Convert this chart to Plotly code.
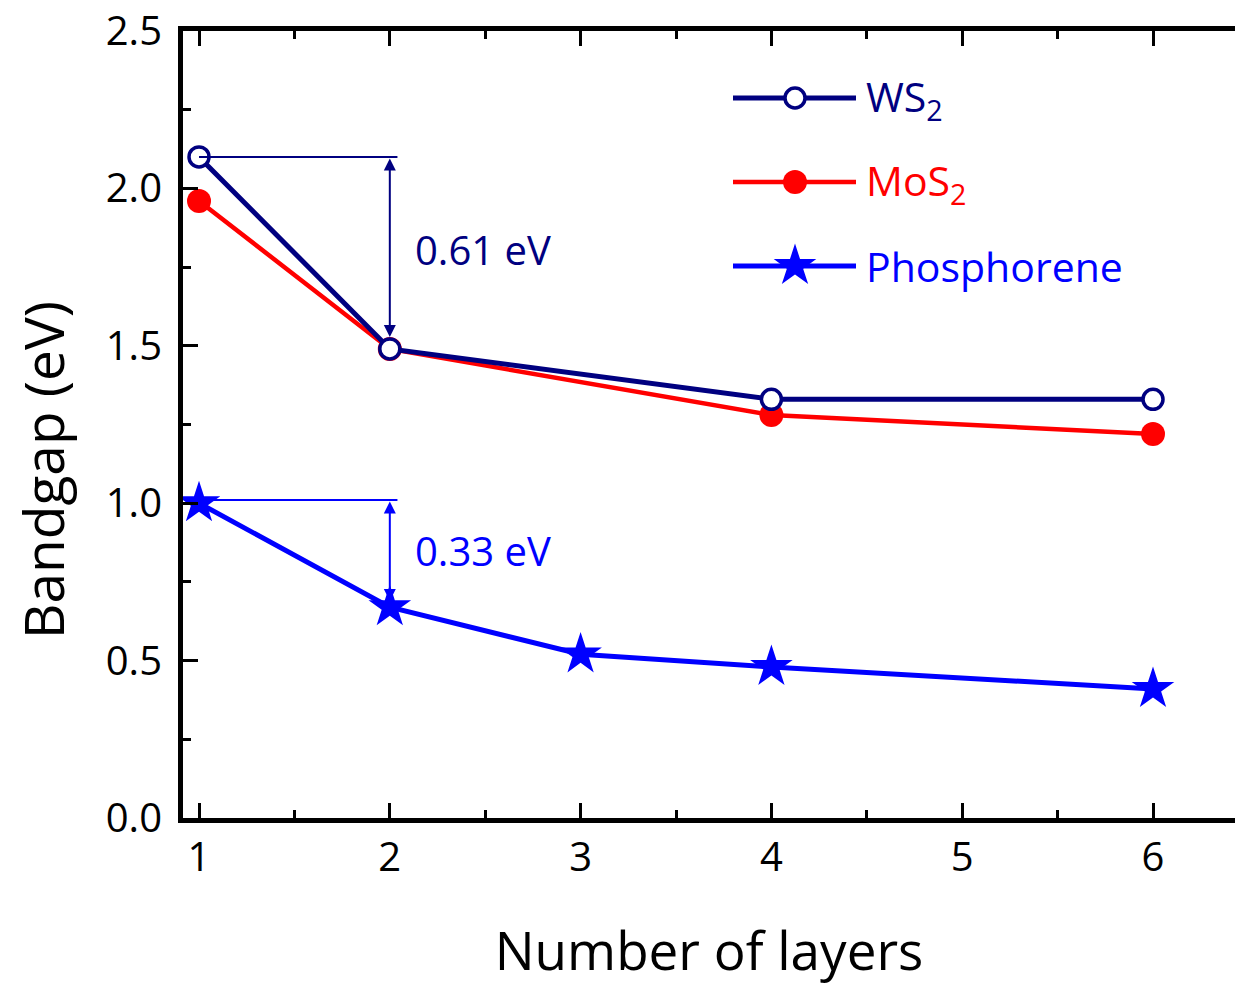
import plotly.graph_objects as go

# ---------------- data ----------------
layers_ws2 = [1, 2, 4, 6]
gap_ws2 = [2.10, 1.49, 1.33, 1.33]

layers_mos2 = [1, 2, 4, 6]
gap_mos2 = [1.96, 1.49, 1.28, 1.22]

layers_ph = [1, 2, 3, 4, 6]
gap_ph = [1.00, 0.67, 0.52, 0.48, 0.41]

x_ticks = [1, 2, 3, 4, 5, 6]
y_ticks = [0.0, 0.5, 1.0, 1.5, 2.0, 2.5]
y_tick_text = ["0.0", "0.5", "1.0", "1.5", "2.0", "2.5"]

delta_ws2_label = "0.61 eV"
delta_ph_label = "0.33 eV"

NAVY = "#000080"
RED = "#ff0000"
BLUE = "#0000ff"
FONT = "Open Sans"

W, H = 1235, 986
L, R, T, B = 183, 0, 31, 168

fig = go.Figure()

fig.add_trace(go.Scatter(
    x=layers_mos2, y=gap_mos2, mode="lines+markers", name="MoS2",
    line=dict(color=RED, width=4.5),
    marker=dict(symbol="circle", size=24, color=RED),
    showlegend=False, cliponaxis=False))
fig.add_trace(go.Scatter(
    x=layers_ws2, y=gap_ws2, mode="lines+markers", name="WS2",
    line=dict(color=NAVY, width=5),
    marker=dict(symbol="circle", size=20, color="white",
                line=dict(color=NAVY, width=3.5)),
    showlegend=False, cliponaxis=False))
fig.add_trace(go.Scatter(
    x=layers_ph, y=gap_ph, mode="lines+markers", name="Phosphorene",
    line=dict(color=BLUE, width=5),
    marker=dict(symbol="star", size=32, color=BLUE),
    showlegend=False, cliponaxis=False))

# ---------------- legend drawn on a pixel overlay axis ----------------
leg_rows = [
    ("WS<sub>2</sub>", NAVY, dict(symbol="circle", size=20, color="white", line=dict(color=NAVY, width=3.5)), 5, 98),
    ("MoS<sub>2</sub>", RED, dict(symbol="circle", size=24, color=RED), 4.5, 182),
    ("Phosphorene", BLUE, dict(symbol="star", size=32, color=BLUE), 5, 266),
]
leg_x0, leg_x1, leg_xm, leg_tx = 733, 856, 795, 864
for text, col, mk, lw, yy in leg_rows:
    fig.add_trace(go.Scatter(x=[leg_x0, leg_x1], y=[yy, yy], mode="lines",
                             line=dict(color=col, width=lw), xaxis="x2", yaxis="y3",
                             showlegend=False, hoverinfo="skip"))
    fig.add_trace(go.Scatter(x=[leg_xm], y=[yy], mode="markers", marker=mk,
                             xaxis="x2", yaxis="y3", showlegend=False, hoverinfo="skip"))
    fig.add_annotation(x=leg_tx, y=yy, xref="x2", yref="y3", text=text,
                       showarrow=False, xanchor="left", yanchor="middle",
                       font=dict(family=FONT, size=41, color=col))

# ---------------- annotations: gap differences ----------------
x_bar_end = 2.04
fig.add_shape(type="line", x0=layers_ws2[0], x1=x_bar_end, y0=gap_ws2[0], y1=gap_ws2[0],
              line=dict(color=NAVY, width=2))
fig.add_annotation(x=layers_ws2[1], y=gap_ws2[1], ax=layers_ws2[1], ay=gap_ws2[0],
                   xref="x", yref="y", axref="x", ayref="y", text="",
                   showarrow=True, arrowside="end+start", arrowhead=2, arrowsize=1.2,
                   arrowwidth=2, arrowcolor=NAVY, standoff=12, startstandoff=0)
fig.add_annotation(x=2.12, y=1.805, xref="x", yref="y", text=delta_ws2_label,
                   showarrow=False, xanchor="left", yanchor="middle",
                   font=dict(family=FONT, size=40, color=NAVY))

fig.add_shape(type="line", x0=layers_ph[0], x1=x_bar_end, y0=gap_ph[0] + 0.01, y1=gap_ph[0] + 0.01,
              line=dict(color=BLUE, width=2))
fig.add_annotation(x=layers_ph[1], y=gap_ph[1], ax=layers_ph[1], ay=gap_ph[0] + 0.01,
                   xref="x", yref="y", axref="x", ayref="y", text="",
                   showarrow=True, arrowside="end+start", arrowhead=2, arrowsize=1.2,
                   arrowwidth=2, arrowcolor=BLUE, standoff=6, startstandoff=0)
fig.add_annotation(x=2.12, y=0.85, xref="x", yref="y", text=delta_ph_label,
                   showarrow=False, xanchor="left", yanchor="middle",
                   font=dict(family=FONT, size=40, color=BLUE))

# y-axis title (placed as in the reference, slightly below the axis centre)
fig.add_annotation(x=(42 - L) / (W - L - R), y=(H - B - 470) / (H - B - T),
                   xref="paper", yref="paper", text="Bandgap (eV)", textangle=-90,
                   showarrow=False, xanchor="center", yanchor="middle",
                   font=dict(family=FONT, size=55, color="black"))

tickfont = dict(family=FONT, size=40, color="black")
fig.update_layout(
    width=W, height=H,
    margin=dict(l=L, r=R, t=T, b=B, pad=0),
    paper_bgcolor="white", plot_bgcolor="white",
    showlegend=False,
    xaxis=dict(
        range=[0.9161, 6.4298], tickvals=x_ticks, ticktext=[str(v) for v in x_ticks],
        showgrid=False, zeroline=False,
        showline=True, linewidth=5, linecolor="black", mirror="allticks",
        ticks="inside", ticklen=15, tickwidth=3, tickcolor="black",
        minor=dict(dtick=0.5, tick0=0.5, ticks="inside", ticklen=8, tickwidth=3, tickcolor="black"),
        tickfont=tickfont, ticklabelstandoff=0,
        title=dict(text="Number of layers", font=dict(family=FONT, size=53, color="black"), standoff=52),
    ),
    yaxis=dict(
        range=[0, 2.5], tickvals=y_ticks, ticktext=y_tick_text,
        showgrid=False, zeroline=False,
        showline=True, linewidth=5, linecolor="black", mirror=False,
        ticks="inside", ticklen=15, tickwidth=3, tickcolor="black",
        minor=dict(dtick=0.25, tick0=0, ticks="inside", ticklen=8, tickwidth=3, tickcolor="black"),
        tickfont=tickfont, ticklabelstandoff=8,
    ),
    yaxis2=dict(
        range=[0, 2.5], overlaying="y", side="right", anchor="x",
        tickvals=y_ticks, showticklabels=False, showgrid=False, zeroline=False,
        showline=False, ticks="inside", ticklen=4, tickwidth=3, tickcolor="black",
    ),
    xaxis2=dict(range=[L, W - R], overlaying="x", visible=False, anchor="y3"),
    yaxis3=dict(range=[H - B, T], overlaying="y", visible=False, anchor="x2"),
)

fig.write_html("out.html")
